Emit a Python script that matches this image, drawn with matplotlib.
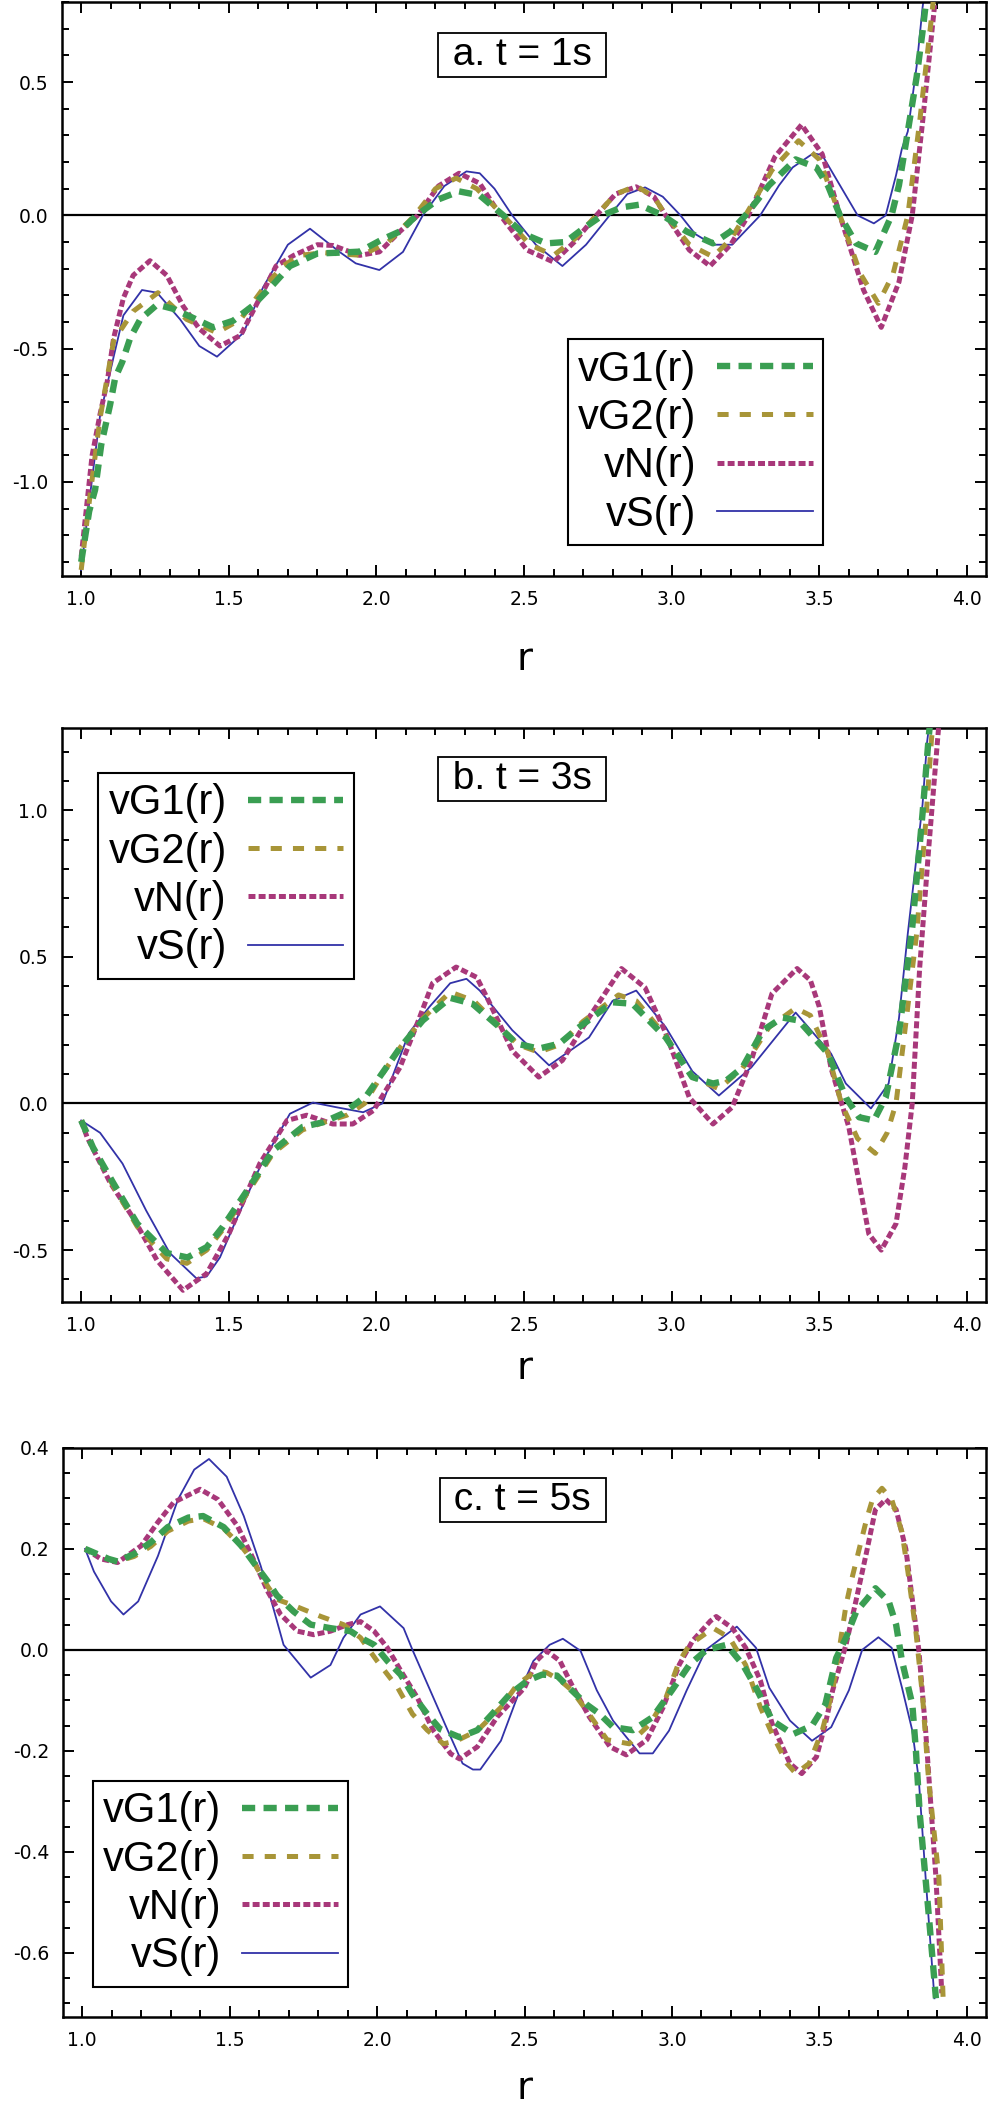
import matplotlib
matplotlib.use("Agg")
import matplotlib.pyplot as plt
from matplotlib.ticker import MultipleLocator, FormatStrFormatter

plt.rcParams['axes.unicode_minus'] = False
plt.rcParams['lines.scale_dashes'] = False

labels = ["vG1(r)", "vG2(r)", "vN(r)", "vS(r)"]
titles = ["a. t = 1s", "b. t = 3s", "c. t = 5s"]

# panel a, t = 1s
a_rG1 = [1.00, 1.027, 1.047, 1.068, 1.098, 1.115, 1.139, 1.166, 1.20, 1.257, 1.31, 1.37, 1.447, 1.515, 1.58, 1.65,
         1.707, 1.80, 1.87, 1.943, 2.02, 2.08, 2.136, 2.21, 2.28, 2.35, 2.43, 2.50, 2.575, 2.64, 2.70, 2.765, 2.83,
         2.89, 2.97, 3.05, 3.14, 3.20, 3.25, 3.33, 3.42, 3.49, 3.53, 3.57, 3.625, 3.69, 3.745, 3.77, 3.80, 3.83,
         3.85, 3.87]
a_G1 = [-1.30, -1.11, -1.03, -0.86, -0.71, -0.61, -0.55, -0.46, -0.39, -0.335, -0.35, -0.38, -0.42, -0.395, -0.34,
        -0.26, -0.19, -0.143, -0.14, -0.136, -0.09, -0.06, 0.0, 0.06, 0.09, 0.075, 0.0, -0.07, -0.105, -0.10, -0.05,
        0.0, 0.03, 0.04, 0.0, -0.06, -0.105, -0.06, 0.0, 0.113, 0.21, 0.18, 0.11, 0.0, -0.105, -0.137, 0.0, 0.113,
        0.315, 0.52, 0.69, 0.88]
a_rG2 = [1.00, 1.03, 1.064, 1.11, 1.176, 1.26, 1.357, 1.46, 1.54, 1.616, 1.683, 1.74, 1.82, 1.95, 2.04, 2.13, 2.20,
         2.27, 2.34, 2.43, 2.52, 2.60, 2.67, 2.745, 2.81, 2.88, 2.94, 2.98, 3.06, 3.14, 3.20, 3.25, 3.34, 3.43, 3.50,
         3.57, 3.64, 3.70, 3.75, 3.80, 3.84, 3.88, 3.90]
a_G2 = [-1.33, -1.05, -0.76, -0.47, -0.36, -0.29, -0.39, -0.44, -0.39, -0.275, -0.19, -0.15, -0.14, -0.15, -0.10,
        0.0, 0.10, 0.14, 0.10, 0.0, -0.11, -0.15, -0.09, 0.0, 0.08, 0.11, 0.07, 0.0, -0.11, -0.155, -0.09, 0.0, 0.17,
        0.28, 0.21, 0.0, -0.22, -0.33, -0.22, 0.0, 0.35, 0.74, 0.95]
a_rN = [1.00, 1.037, 1.064, 1.088, 1.11, 1.143, 1.176, 1.233, 1.29, 1.345, 1.40, 1.47, 1.54, 1.605, 1.66, 1.72, 1.80,
        1.853, 1.943, 2.01, 2.08, 2.14, 2.21, 2.28, 2.35, 2.42, 2.51, 2.60, 2.67, 2.745, 2.81, 2.88, 2.94, 2.98, 3.06,
        3.13, 3.20, 3.26, 3.35, 3.44, 3.51, 3.57, 3.65, 3.71, 3.77, 3.815, 3.85, 3.89, 3.91]
a_N = [-1.28, -0.90, -0.745, -0.625, -0.46, -0.31, -0.225, -0.17, -0.225, -0.34, -0.425, -0.49, -0.45, -0.31, -0.19,
       -0.15, -0.11, -0.113, -0.15, -0.137, -0.06, 0.0, 0.11, 0.158, 0.12, 0.0, -0.13, -0.175, -0.10, 0.0, 0.08,
       0.107, 0.07, 0.0, -0.13, -0.19, -0.11, 0.0, 0.22, 0.34, 0.23, 0.0, -0.28, -0.42, -0.25, 0.0, 0.35, 0.78, 0.95]
a_rS = [1.00, 1.03, 1.064, 1.11, 1.143, 1.206, 1.257, 1.335, 1.40, 1.46, 1.55, 1.616, 1.70, 1.775, 1.875, 1.93, 2.01,
        2.09, 2.157, 2.23, 2.305, 2.35, 2.40, 2.46, 2.54, 2.63, 2.71, 2.79, 2.85, 2.91, 2.97, 3.03, 3.08, 3.14, 3.205,
        3.30, 3.364, 3.41, 3.48, 3.51, 3.57, 3.63, 3.685, 3.725, 3.76, 3.78, 3.80, 3.83, 3.85, 3.87]
a_S = [-1.33, -1.05, -0.75, -0.53, -0.375, -0.28, -0.29, -0.39, -0.49, -0.53, -0.44, -0.27, -0.11, -0.05, -0.137,
       -0.18, -0.205, -0.137, 0.0, 0.11, 0.165, 0.158, 0.10, 0.0, -0.11, -0.19, -0.11, 0.0, 0.08, 0.105, 0.07, 0.0,
       -0.07, -0.11, -0.11, 0.0, 0.113, 0.18, 0.233, 0.226, 0.113, 0.0, -0.03, 0.0, 0.15, 0.25, 0.315, 0.56, 0.78,
       0.95]

# panel b, t = 3s
b_rG1 = [1.00, 1.04, 1.108, 1.19, 1.29, 1.36, 1.425, 1.48, 1.56, 1.65, 1.75, 1.82, 1.885, 1.967, 2.08, 2.157, 2.25,
         2.325, 2.417, 2.475, 2.55, 2.62, 2.68, 2.80, 2.867, 2.98, 3.07, 3.14, 3.185, 3.24, 3.31, 3.375, 3.43, 3.53,
         3.59, 3.635, 3.685, 3.725, 3.77, 3.815, 3.85, 3.87, 3.88]
b_G1 = [-0.058, -0.15, -0.27, -0.41, -0.51, -0.525, -0.49, -0.42, -0.30, -0.16, -0.08, -0.064, -0.035, 0.027, 0.19,
        0.283, 0.36, 0.34, 0.26, 0.204, 0.187, 0.204, 0.255, 0.345, 0.34, 0.225, 0.09, 0.068, 0.078, 0.123, 0.25,
        0.293, 0.283, 0.17, 0.02, -0.047, -0.058, 0.02, 0.24, 0.60, 0.99, 1.24, 1.35]
b_rG2 = [1.00, 1.04, 1.108, 1.19, 1.29, 1.358, 1.425, 1.48, 1.56, 1.65, 1.75, 1.82, 1.90, 1.96, 2.02, 2.08, 2.157,
         2.25, 2.33, 2.42, 2.48, 2.55, 2.62, 2.70, 2.82, 2.88, 2.98, 3.07, 3.16, 3.24, 3.33, 3.42, 3.47, 3.53, 3.575,
         3.63, 3.69, 3.73, 3.76, 3.80, 3.83, 3.86, 3.88, 3.89]
b_G2 = [-0.058, -0.15, -0.28, -0.42, -0.53, -0.545, -0.50, -0.43, -0.31, -0.17, -0.09, -0.065, -0.04, 0.0, 0.10,
        0.19, 0.29, 0.38, 0.35, 0.26, 0.20, 0.175, 0.20, 0.28, 0.37, 0.35, 0.23, 0.09, 0.05, 0.12, 0.26, 0.325, 0.30,
        0.17, 0.0, -0.12, -0.17, -0.10, 0.0, 0.33, 0.58, 0.95, 1.24, 1.35]
b_rN = [1.00, 1.02, 1.098, 1.176, 1.257, 1.345, 1.425, 1.50, 1.605, 1.697, 1.764, 1.852, 1.92, 1.99, 2.08, 2.145,
        2.19, 2.27, 2.34, 2.38, 2.46, 2.55, 2.63, 2.72, 2.83, 2.91, 2.98, 3.06, 3.14, 3.205, 3.27, 3.34, 3.425, 3.47,
        3.50, 3.54, 3.60, 3.635, 3.668, 3.71, 3.76, 3.79, 3.815, 3.84, 3.87, 3.90, 3.91]
b_N = [-0.058, -0.115, -0.27, -0.39, -0.535, -0.637, -0.58, -0.445, -0.205, -0.058, -0.04, -0.07, -0.07, -0.024,
       0.123, 0.29, 0.41, 0.465, 0.43, 0.35, 0.18, 0.09, 0.147, 0.293, 0.46, 0.395, 0.24, 0.02, -0.07, -0.013, 0.147,
       0.375, 0.46, 0.42, 0.33, 0.12, -0.08, -0.27, -0.445, -0.50, -0.41, -0.218, 0.0, 0.46, 0.86, 1.23, 1.35]
b_rS = [1.00, 1.064, 1.14, 1.22, 1.30, 1.39, 1.425, 1.47, 1.515, 1.605, 1.707, 1.785, 1.865, 1.955, 2.02, 2.11, 2.18,
        2.25, 2.305, 2.35, 2.46, 2.585, 2.72, 2.80, 2.88, 2.98, 3.07, 3.16, 3.27, 3.42, 3.54, 3.59, 3.675, 3.735,
        3.77, 3.80, 3.85, 3.865, 3.88]
b_S = [-0.058, -0.10, -0.205, -0.365, -0.51, -0.596, -0.59, -0.525, -0.42, -0.218, -0.035, 0.003, -0.013, -0.03,
       0.0, 0.24, 0.33, 0.41, 0.425, 0.385, 0.25, 0.13, 0.225, 0.35, 0.385, 0.26, 0.11, 0.027, 0.123, 0.31, 0.17,
       0.068, -0.017, 0.068, 0.29, 0.58, 1.02, 1.23, 1.35]

# panel c, t = 5s
c_rG1 = [1.01, 1.09, 1.12, 1.176, 1.233, 1.29, 1.36, 1.41, 1.48, 1.54, 1.58, 1.63, 1.66, 1.717, 1.775, 1.842, 1.91,
         1.944, 1.99, 2.035, 2.08, 2.12, 2.17, 2.214, 2.28, 2.34, 2.395, 2.45, 2.51, 2.56, 2.61, 2.66, 2.71, 2.755,
         2.80, 2.867, 2.935, 3.00, 3.06, 3.117, 3.185, 3.24, 3.285, 3.34, 3.41, 3.475, 3.52, 3.557, 3.59, 3.625,
         3.66, 3.69, 3.735, 3.76, 3.78, 3.815, 3.827, 3.84, 3.87, 3.895]
c_G1 = [0.20, 0.18, 0.175, 0.19, 0.213, 0.243, 0.262, 0.265, 0.243, 0.206, 0.174, 0.135, 0.108, 0.076, 0.05, 0.043,
        0.037, 0.024, 0.01, -0.022, -0.049, -0.088, -0.127, -0.157, -0.173, -0.159, -0.124, -0.088, -0.061, -0.049,
        -0.051, -0.08, -0.108, -0.127, -0.153, -0.159, -0.133, -0.08, -0.029, 0.0, 0.01, -0.029, -0.075, -0.14,
        -0.167, -0.15, -0.108, -0.016, 0.024, 0.076, 0.10, 0.122, 0.096, 0.05, -0.022, -0.108, -0.198, -0.323,
        -0.52, -0.69]
c_rG2 = [1.01, 1.09, 1.12, 1.176, 1.233, 1.29, 1.36, 1.41, 1.48, 1.54, 1.58, 1.63, 1.66, 1.717, 1.81, 1.886, 1.944,
         2.0, 2.07, 2.12, 2.17, 2.225, 2.27, 2.34, 2.42, 2.475, 2.54, 2.575, 2.62, 2.66, 2.71, 2.78, 2.855, 2.925,
         2.98, 3.025, 3.06, 3.14, 3.195, 3.25, 3.30, 3.34, 3.39, 3.42, 3.465, 3.51, 3.545, 3.567, 3.59, 3.61, 3.635,
         3.66, 3.68, 3.712, 3.745, 3.78, 3.80, 3.827, 3.85, 3.87, 3.905, 3.92]
c_G2 = [0.20, 0.18, 0.175, 0.185, 0.205, 0.235, 0.255, 0.26, 0.24, 0.205, 0.175, 0.125, 0.10, 0.088, 0.066, 0.05,
        0.024, -0.022, -0.075, -0.127, -0.159, -0.186, -0.18, -0.16, -0.114, -0.069, -0.041, -0.045, -0.06, -0.08,
        -0.12, -0.178, -0.186, -0.147, -0.094, -0.022, 0.01, 0.043, 0.024, -0.03, -0.114, -0.167, -0.225, -0.245,
        -0.225, -0.159, -0.08, 0.0, 0.088, 0.141, 0.20, 0.259, 0.298, 0.32, 0.298, 0.233, 0.155, 0.037, -0.094,
        -0.257, -0.45, -0.70]
c_rN = [1.01, 1.064, 1.12, 1.20, 1.257, 1.31, 1.40, 1.46, 1.527, 1.58, 1.63, 1.673, 1.73, 1.785, 1.842, 1.90, 1.944,
        1.99, 2.035, 2.08, 2.136, 2.19, 2.25, 2.28, 2.34, 2.407, 2.50, 2.54, 2.575, 2.62, 2.66, 2.72, 2.79, 2.845,
        2.915, 2.97, 3.025, 3.07, 3.13, 3.15, 3.205, 3.25, 3.30, 3.34, 3.40, 3.44, 3.49, 3.52, 3.545, 3.59, 3.625,
        3.66, 3.69, 3.725, 3.76, 3.793, 3.815, 3.837, 3.86, 3.895, 3.915]
c_N = [0.20, 0.18, 0.173, 0.206, 0.253, 0.292, 0.318, 0.298, 0.245, 0.18, 0.115, 0.07, 0.037, 0.03, 0.037, 0.05,
       0.056, 0.037, 0.004, -0.041, -0.094, -0.159, -0.206, -0.216, -0.192, -0.133, -0.075, -0.022, -0.002, -0.022,
       -0.069, -0.133, -0.192, -0.208, -0.178, -0.114, -0.029, 0.018, 0.057, 0.066, 0.043, 0.004, -0.061, -0.147,
       -0.225, -0.245, -0.212, -0.147, -0.08, 0.01, 0.10, 0.194, 0.278, 0.298, 0.278, 0.20, 0.10, 0.0, -0.159,
       -0.45, -0.68]
c_rS = [1.01, 1.04, 1.098, 1.14, 1.19, 1.257, 1.325, 1.38, 1.43, 1.49, 1.548, 1.605, 1.64, 1.683, 1.775, 1.842,
        1.886, 1.944, 2.01, 2.09, 2.12, 2.18, 2.24, 2.29, 2.325, 2.35, 2.42, 2.475, 2.53, 2.585, 2.63, 2.69, 2.745,
        2.80, 2.89, 2.935, 2.99, 3.05, 3.115, 3.22, 3.285, 3.33, 3.40, 3.475, 3.54, 3.60, 3.645, 3.70, 3.745, 3.78,
        3.815, 3.837, 3.86, 3.89]
c_S = [0.20, 0.155, 0.096, 0.07, 0.096, 0.186, 0.298, 0.357, 0.378, 0.343, 0.265, 0.167, 0.10, 0.01, -0.055, -0.03,
       0.024, 0.07, 0.086, 0.043, 0.0, -0.08, -0.16, -0.225, -0.237, -0.237, -0.18, -0.094, -0.022, 0.01, 0.022,
       -0.002, -0.08, -0.14, -0.205, -0.205, -0.16, -0.08, 0.0, 0.046, 0.004, -0.075, -0.14, -0.18, -0.153, -0.08,
       0.0, 0.025, 0.004, -0.075, -0.16, -0.257, -0.45, -0.69]

green = '#3a9e52'
olive = '#a89538'
magenta = '#a8387a'
blue = '#3232a8'


def draw(ax, rG1, G1, rG2, G2, rN, N, rS, S):
    ax.axhline(0, color='black', lw=1.6, zorder=1)
    hS, = ax.plot(rS, S, color=blue, lw=1.3, zorder=2)
    hN, = ax.plot(rN, N, color=magenta, lw=3.6, dashes=(5, 2.3), zorder=3)
    hG2, = ax.plot(rG2, G2, color=olive, lw=3.6, dashes=(8, 8), zorder=4)
    hG1, = ax.plot(rG1, G1, color=green, lw=4.6, dashes=(9.5, 6), zorder=5)
    return [hG1, hG2, hN, hS]


def style(ax, ymaj, ymin, lpad):
    ax.set_xlim(0.935, 4.065)
    ax.xaxis.set_major_locator(MultipleLocator(0.5))
    ax.xaxis.set_minor_locator(MultipleLocator(0.1))
    ax.yaxis.set_major_locator(MultipleLocator(ymaj))
    ax.yaxis.set_minor_locator(MultipleLocator(ymin))
    ax.xaxis.set_major_formatter(FormatStrFormatter('%.1f'))
    ax.yaxis.set_major_formatter(FormatStrFormatter('%.1f'))
    ax.tick_params(which='both', direction='in', top=True, right=True, width=1.4, labelsize=13.5, pad=10)
    ax.tick_params(which='major', length=8)
    ax.tick_params(which='minor', length=5)
    for s in ax.spines.values():
        s.set_linewidth(1.8)
    ax.set_xlabel('r', fontsize=28, labelpad=lpad)


fig = plt.figure(figsize=(9.92, 21.14), dpi=100)
ax1 = fig.add_axes([0.0625, 0.7275, 0.9315, 0.2715])
ax2 = fig.add_axes([0.0625, 0.3841, 0.9315, 0.2715])
ax3 = fig.add_axes([0.0635, 0.0459, 0.9305, 0.2692])

h = draw(ax1, a_rG1, a_G1, a_rG2, a_G2, a_rN, a_N, a_rS, a_S)
style(ax1, 0.5, 0.1, 22)
ax1.set_ylim(-1.353, 0.80)
draw(ax2, b_rG1, b_G1, b_rG2, b_G2, b_rN, b_N, b_rS, b_S)
style(ax2, 0.5, 0.1, 10)
ax2.set_ylim(-0.677, 1.28)
draw(ax3, c_rG1, c_G1, c_rG2, c_G2, c_rN, c_N, c_rS, c_S)
style(ax3, 0.2, 0.05, 14)
ax3.set_ylim(-0.727, 0.40)

leg_kw = dict(markerfirst=False, fancybox=False, edgecolor='black', framealpha=1,
              prop={'family': 'Liberation Sans', 'size': 30}, handlelength=2.3, handletextpad=0.5,
              borderpad=0.25, labelspacing=0.2, borderaxespad=0)
l1 = ax1.legend(h, labels, loc='lower right', bbox_to_anchor=(0.824, 0.054), **leg_kw)
l2 = ax2.legend(h, labels, loc='upper left', bbox_to_anchor=(0.039, 0.922), **leg_kw)
l3 = ax3.legend(h, labels, loc='lower left', bbox_to_anchor=(0.032, 0.053), **leg_kw)
for l in (l1, l2, l3):
    l.get_frame().set_linewidth(1.5)

for ax, t, y in zip([ax1, ax2, ax3], titles, [0.908, 0.911, 0.909]):
    ax.text(0.498, y, ' ' + t + ' ', transform=ax.transAxes, ha='center', va='center', fontsize=28,
            family='Liberation Sans', zorder=10,
            bbox=dict(boxstyle='square,pad=0.1', fc='white', ec='black', lw=1.3))

fig.savefig('out.png', dpi=100)
